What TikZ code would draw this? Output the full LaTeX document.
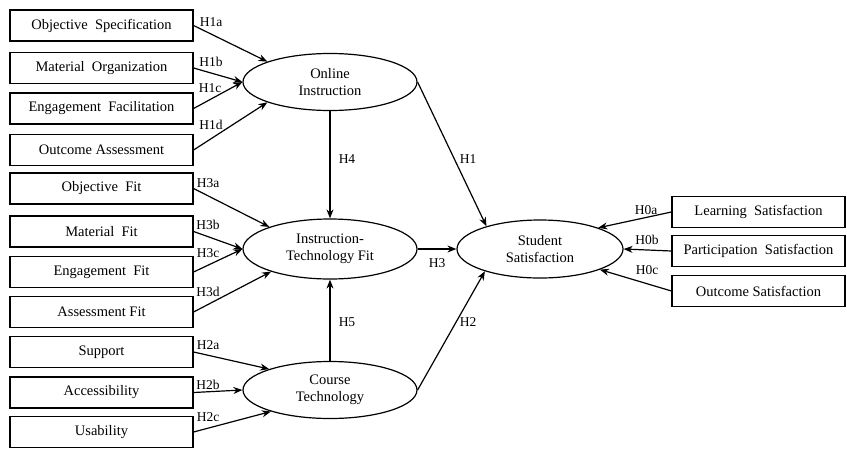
\documentclass[tikz,border=0pt]{standalone}
\usepackage{fontspec}
\setmainfont{Liberation Serif}
\usetikzlibrary{shapes.geometric,arrows.meta}

\begin{document}
\begin{tikzpicture}[x=1pt,y=-1pt,line width=1.2pt,
    ind/.style={draw,minimum width=183pt,minimum height=31pt,inner sep=0pt,font=\fontsize{14.5}{16}\selectfont},
    con/.style={draw,ellipse,minimum width=174pt,minimum height=57pt,inner sep=0pt,align=center,font=\fontsize{14.5}{16.5}\selectfont},
    hyp/.style={-{Stealth[length=9pt,width=7pt]}},
    lab/.style={inner sep=0pt,font=\fontsize{13.5}{15}\selectfont}]
    \useasboundingbox (0,0) rectangle (847,448);

    % indicators on the left
    \foreach \n/\y/\t in {os/25.5/Objective\ \ Specification,mo/68/Material\ \ Organization,
        ef/108.5/Engagement\ \ Facilitation,oa/150/Outcome Assessment,
        of/188.5/Objective\ \ Fit,mf/231.5/Material\ \ Fit,gf/272/Engagement\ \ Fit,
        af/312/Assessment Fit,su/352/Support,ac/392.5/Accessibility,us/432/Usability}
        {\node[ind] (\n) at (101.5,\y) {\t};}
    % indicators on the right
    \foreach \n/\y/\t in {ls/212/Learning\ \ Satisfaction,ps/251/Participation\ \ Satisfaction,
        ocs/291/Outcome Satisfaction}
        {\node[ind,minimum width=173pt] (\n) at (758.5,\y) {\t};}

    \node[con] (oi) at (330,82) {Online\\Instruction};
    \node[con,minimum height=60pt] (itf) at (330,249) {Instruction-\\Technology Fit};
    \node[con] (ct) at (330,390) {Course\\Technology};
    \node[con,minimum width=166pt,minimum height=58pt] (ss) at (540,249) {Student\\Satisfaction};

    \foreach \a/\b in {os/oi.162,mo/oi.west,ef/oi.west,oa/oi.198,
        of/itf.160,mf/itf.west,gf/itf.west,af/itf.201,
        su/ct.161,ac/ct.west,us/ct.200}
        {\draw[hyp] (\a.east) -- (\b);}
    \foreach \a/\b in {ls/ss.20,ps/ss.east,ocs/ss.-19}
        {\draw[hyp] (\a.west) -- (\b);}
    \draw[hyp] (oi) -- (itf);
    \draw[hyp] (ct) -- (itf);
    \draw[hyp] (itf) -- (ss);
    \draw[hyp] (oi.east) -- (ss.157);
    \draw[hyp] (ct.east) -- (ss.202);

    % hypothesis labels
    \foreach \n/\x/\y/\t in {h1a/211/22/H1a,h1b/211/62/H1b,h1c/210/88/H1c,h1d/211/125/H1d,
        h3a/208/183/H3a,h3b/208/225/H3b,h3c/208/253/H3c,h3d/208/292/H3d,
        h2a/208/345/H2a,h2b/208/385/H2b,h2c/208/417/H2c,
        h0a/646/210/H0a,h0b/647/240/H0b,h0c/647/270/H0c,
        h4/347/159/H4,h1/468/159/H1,h3/437/263/H3,h5/347/322/H5,h2/468/322/H2}
        {\node[lab] (\n) at (\x,\y) {\t};}
\end{tikzpicture}
\end{document}
